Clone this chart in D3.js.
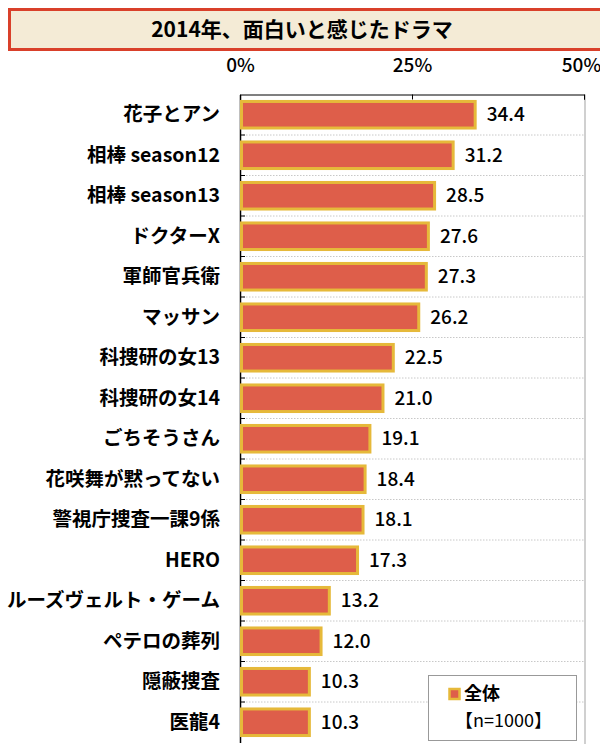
<!DOCTYPE html>
<html>
<head>
<meta charset="utf-8">
<script src="https://cdn.jsdelivr.net/npm/d3@7"></script>
<style>
  body { margin: 0; background: #fff; }
  text { font-family: "Noto Sans CJK JP", "Liberation Sans", sans-serif; }
</style>
</head>
<body>
<div id="chart"></div>
<script>
// data
const categories = ["花子とアン", "相棒 season12", "相棒 season13", "ドクターX", "軍師官兵衛",
  "マッサン", "科捜研の女13", "科捜研の女14", "ごちそうさん", "花咲舞が黙ってない",
  "警視庁捜査一課9係", "HERO", "ルーズヴェルト・ゲーム", "ペテロの葬列", "隠蔽捜査", "医龍4"];
const values = [34.4, 31.2, 28.5, 27.6, 27.3, 26.2, 22.5, 21.0, 19.1, 18.4, 18.1, 17.3, 13.2, 12.0, 10.3, 10.3];
const ticks = [0, 25, 50];

const width = 600, height = 744;
const margin = {top: 94.5, right: 16, bottom: 1.5, left: 240};

const svg = d3.select("#chart").append("svg")
  .attr("width", width).attr("height", height);

// title box
svg.append("rect")
  .attr("x", 9.5).attr("y", 9.5).attr("width", 600).attr("height", 40)
  .attr("fill", "#f4ebd6").attr("stroke", "#d9402a").attr("stroke-width", 3);
svg.append("text")
  .attr("x", 302).attr("y", 30).attr("dy", "0.35em")
  .attr("text-anchor", "middle")
  .attr("font-size", 21).attr("font-weight", "bold")
  .text("2014年、面白いと感じたドラマ");

const x = d3.scaleLinear().domain([0, 50]).range([margin.left, width - margin.right]);
const y = d3.scaleBand().domain(categories)
  .range([margin.top, height - margin.bottom]).paddingInner(0.27).paddingOuter(0.135);

const step = y.step();

// dotted gridlines between rows
svg.append("g")
  .selectAll("line")
  .data(categories.slice(1))
  .join("line")
    .attr("x1", x(0)).attr("x2", x(50))
    .attr("y1", d => y(d) - y.paddingInner() * step / 2)
    .attr("y2", d => y(d) - y.paddingInner() * step / 2)
    .attr("stroke", "#c8c8c8").attr("stroke-dasharray", "1.5,1.5");

// right frame
svg.append("line")
  .attr("x1", x(50) + 1).attr("x2", x(50) + 1)
  .attr("y1", margin.top).attr("y2", height)
  .attr("stroke", "#d0d0d0").attr("stroke-width", 2);

// top axis
const topAxis = svg.append("g")
  .attr("transform", `translate(0,${margin.top})`)
  .call(d3.axisTop(x).tickValues(ticks).tickSize(-5).tickFormat(d => d + "%"));
topAxis.select(".domain").attr("stroke", "#000");
topAxis.selectAll("text")
  .attr("y", -23)
  .attr("x", d => d === 50 ? -3 : 0)
  .attr("font-size", 19).attr("font-weight", "500")
  .attr("fill", "#000");

// left axis
const leftAxis = svg.append("g")
  .attr("transform", `translate(${margin.left},0)`)
  .call(d3.axisLeft(y).tickSize(0).tickPadding(20));
leftAxis.select(".domain").attr("stroke", "#000").attr("stroke-width", 1.5);
leftAxis.selectAll("text")
  .attr("font-size", 19.5).attr("font-weight", "bold").attr("fill", "#000");

// small row ticks on the left axis
svg.append("g")
  .selectAll("line")
  .data(categories.slice(1))
  .join("line")
    .attr("x1", x(0)).attr("x2", x(0) + 5)
    .attr("y1", d => y(d) - y.paddingInner() * step / 2)
    .attr("y2", d => y(d) - y.paddingInner() * step / 2)
    .attr("stroke", "#000");

// bars
svg.append("g")
  .selectAll("rect")
  .data(values)
  .join("rect")
    .attr("x", x(0) + 1.5)
    .attr("y", (d, i) => y(categories[i]) + 1.5)
    .attr("width", d => x(d) - x(0) - 3)
    .attr("height", y.bandwidth() - 3)
    .attr("fill", "#de5e4a")
    .attr("stroke", "#e6b93a").attr("stroke-width", 3);

// value labels
svg.append("g")
  .selectAll("text")
  .data(values)
  .join("text")
    .attr("x", d => x(d) + 10)
    .attr("y", (d, i) => y(categories[i]) + y.bandwidth() / 2)
    .attr("dy", "0.35em")
    .attr("font-size", 19).attr("font-weight", "500")
    .text(d => d.toFixed(1));

// legend
const lg = svg.append("g").attr("transform", "translate(428,675)");
lg.append("rect")
  .attr("x", 0.5).attr("y", 0.5).attr("width", 148).attr("height", 65)
  .attr("fill", "#fff").attr("stroke", "#999");
lg.append("rect")
  .attr("x", 21.5).attr("y", 14).attr("width", 10).attr("height", 10)
  .attr("fill", "#de5e4a").attr("stroke", "#e6b93a").attr("stroke-width", 2.5);
lg.append("text")
  .attr("x", 36).attr("y", 19).attr("dy", "0.35em")
  .attr("font-size", 18).attr("font-weight", "bold").text("全体");
lg.append("text")
  .attr("x", 27).attr("y", 46).attr("dy", "0.35em")
  .attr("font-size", 18).text("【n=1000】");
</script>
</body>
</html>
